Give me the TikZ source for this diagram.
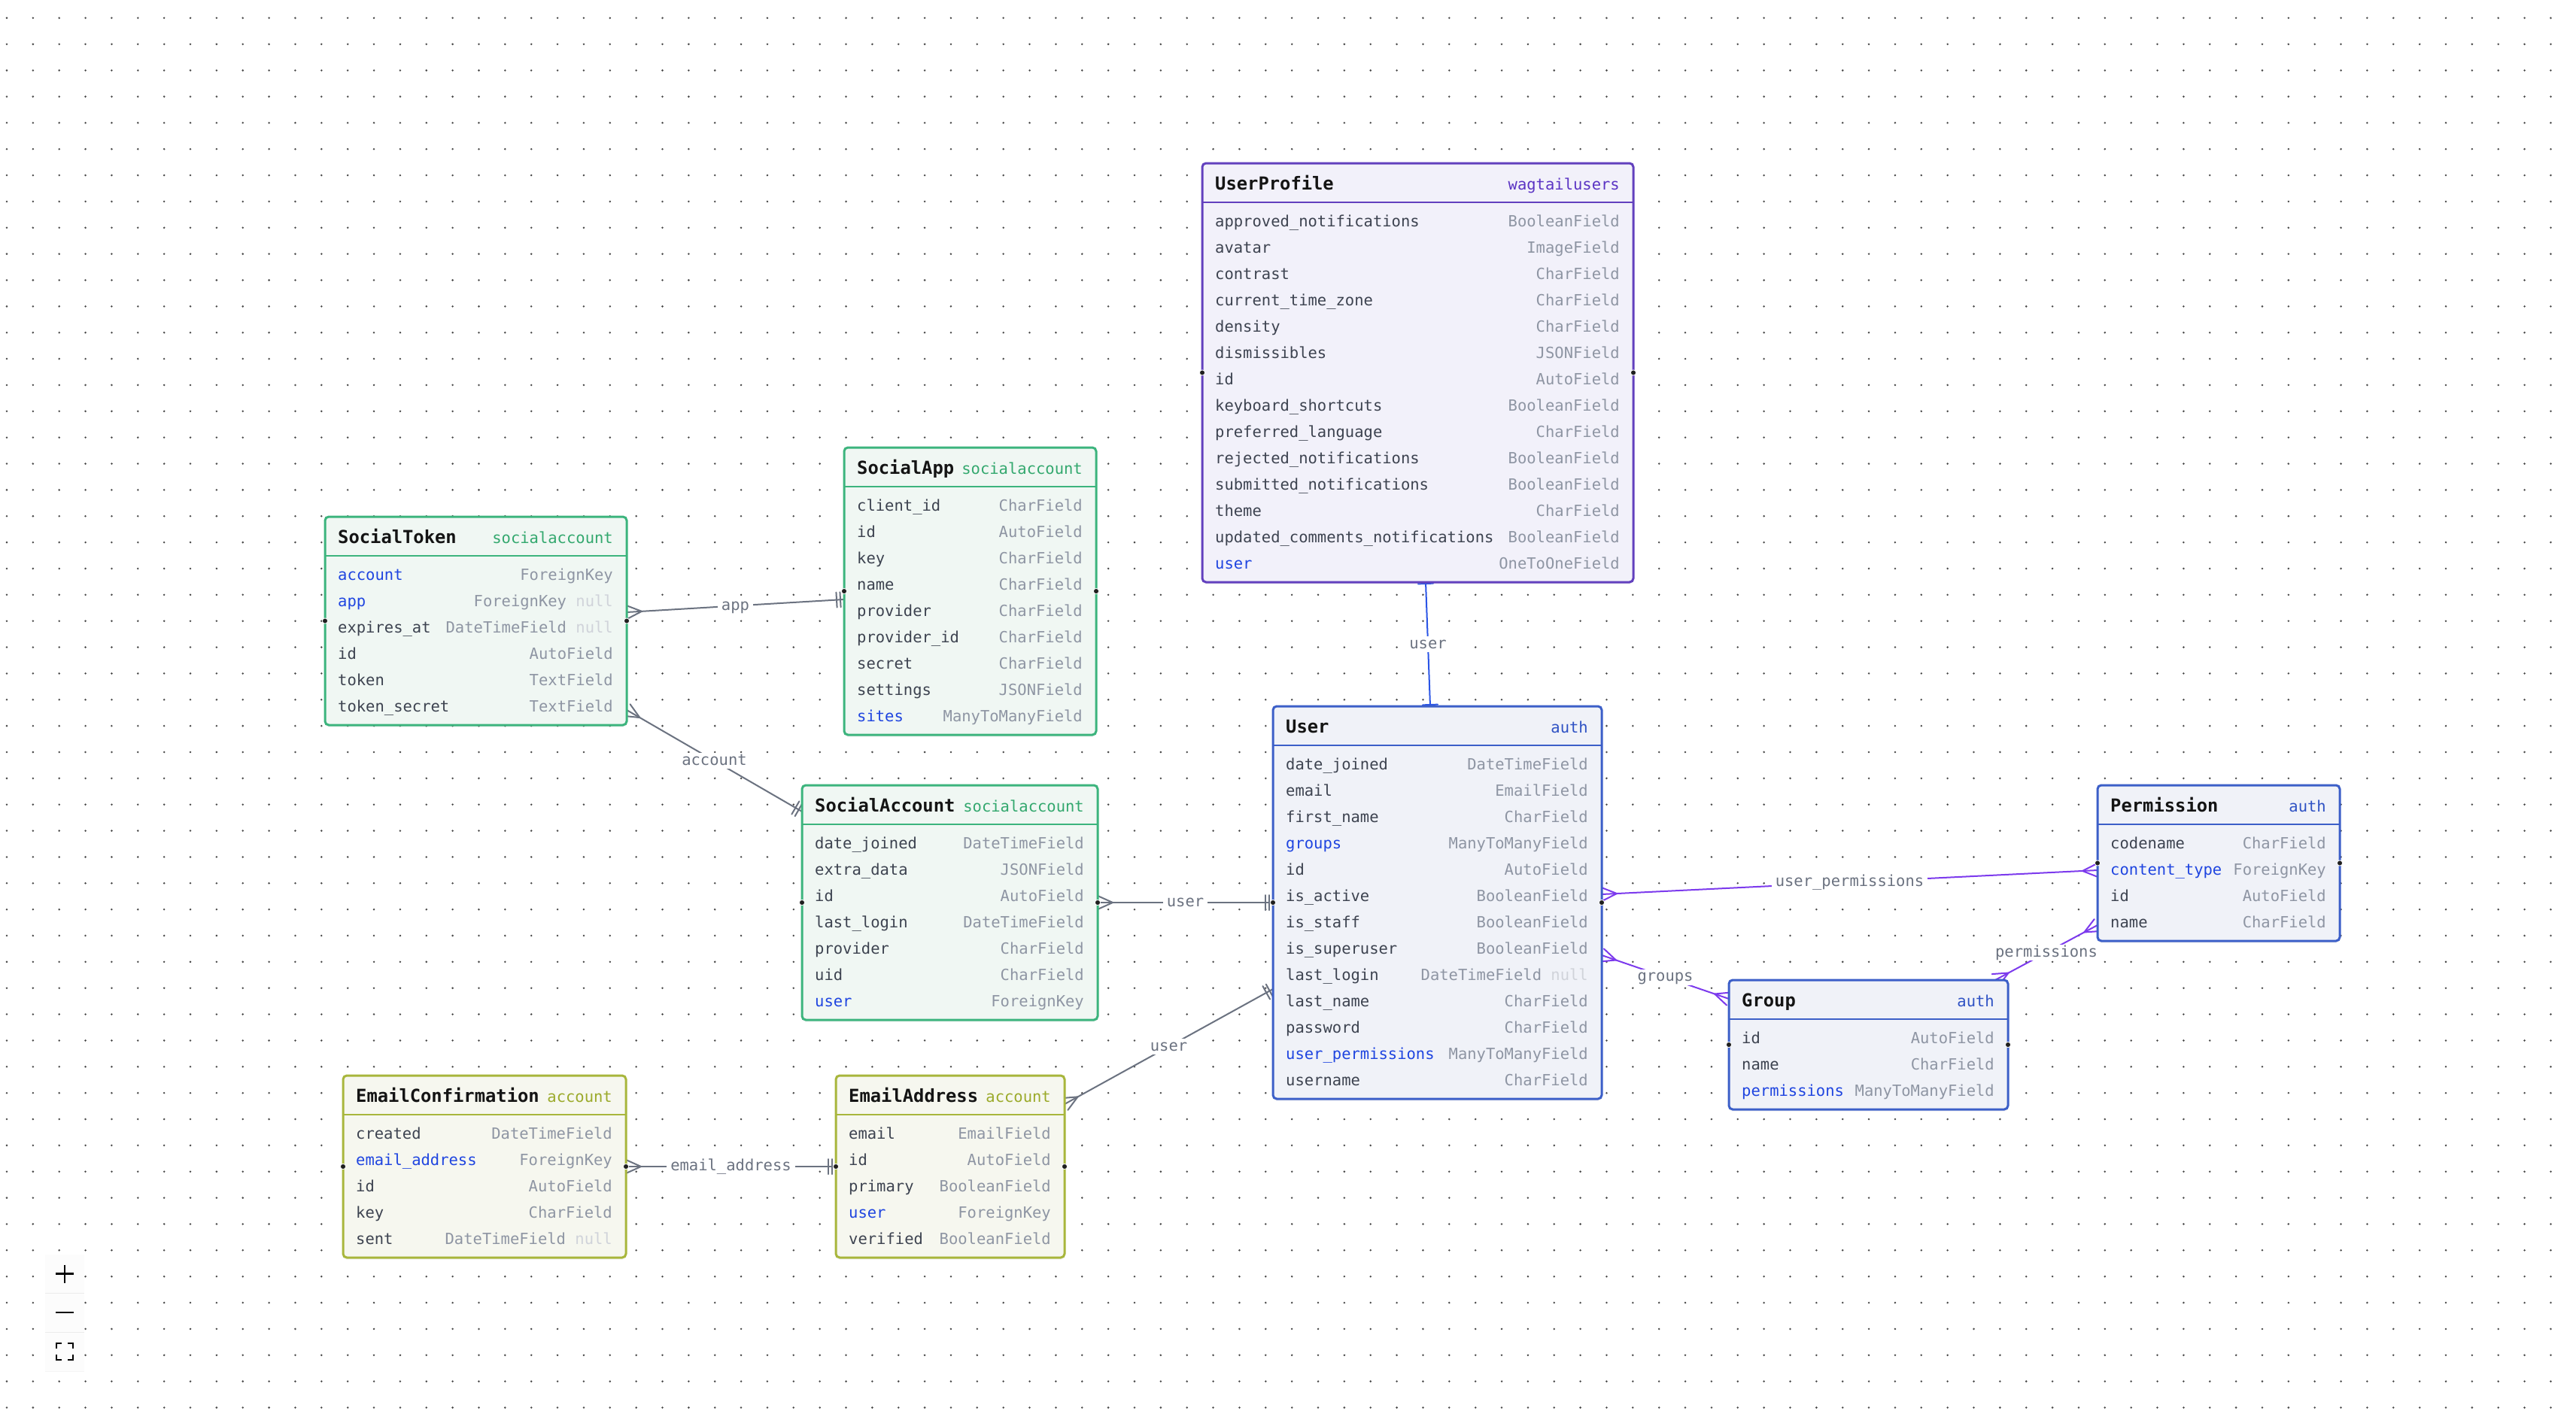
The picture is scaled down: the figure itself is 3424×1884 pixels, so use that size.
\documentclass[tikz,border=0pt]{standalone}
\usepackage{fontspec}
\setmainfont{DejaVu Sans}
\newfontfamily\ermono{DejaVu Sans Mono}
\usetikzlibrary{calc,shadows}
\pgfdeclarelayer{gridlayer}
\pgfdeclarelayer{edgelayer}
\pgfsetlayers{gridlayer,edgelayer,main}

\definecolor{dotcol}{HTML}{4A4A4A}
\definecolor{namecol}{HTML}{3D4350}
\definecolor{fkcol}{HTML}{1F45E0}
\definecolor{typecol}{HTML}{8E95A3}
\definecolor{nullcol}{HTML}{D0D3DA}
\definecolor{edgegray}{HTML}{6B7280}
\definecolor{edgepurple}{HTML}{7C3AED}
\definecolor{edgeblue}{HTML}{2B55E6}
\definecolor{wagbd}{HTML}{6240BE}\definecolor{wagbg}{HTML}{F2F1FA}\definecolor{wagap}{HTML}{5B34C4}
\definecolor{socbd}{HTML}{3CB47D}\definecolor{socbg}{HTML}{F0F7F3}\definecolor{socap}{HTML}{33A86E}
\definecolor{authbd}{HTML}{3C5FC8}\definecolor{authbg}{HTML}{F0F2F8}\definecolor{authap}{HTML}{2F52C4}
\definecolor{accbd}{HTML}{A8B63C}\definecolor{accbg}{HTML}{F6F7EF}\definecolor{accap}{HTML}{9BAA2A}

\tikzset{
  tablebox/.style={rectangle, rounded corners=5pt, line width=3pt, inner sep=0pt, outer sep=0pt,
    anchor=north west, drop shadow={opacity=0.07, shadow xshift=0pt, shadow yshift=-3pt}},
  fieldtext/.style={inner sep=0pt, font=\ermono\fontsize{20.5}{24}\selectfont},
  titletext/.style={inner sep=0pt, text=black!92, font=\ermono\bfseries\fontsize{23.8}{28}\selectfont},
  handle/.style={fill=black!88, draw=white, line width=0.8pt},
  rel/.style={line width=2pt, line cap=round, line join=round},
  grayrel/.style={rel, draw=edgegray},
  purplerel/.style={rel, draw=edgepurple},
  bluerel/.style={rel, draw=edgeblue},
  rellabel/.style={fill=white, text=edgegray, inner xsep=5pt, inner ysep=5pt, text height=11pt,
    text depth=0pt, font=\ermono\fontsize{20.5}{24}\selectfont},
}

% name, left, top, right, rows, colour prefix, title, app, field list
\newcommand\ertable[9]{%
  \pgfmathsetmacro\tabh{67+35*#5}%
  \pgfmathsetmacro\tabw{#4-#2}%
  \node[tablebox, draw=#6bd, fill=#6bg, minimum width=\tabw pt, minimum height=\tabh pt] (#1) at (#2,#3) {};
  \draw[#6bd, line width=2pt] (#2,#3+52) -- (#4,#3+52);
  \node[titletext, anchor=base west] (#1-title) at (#2+17,#3+35) {#7};
  \node[fieldtext, text=#6ap, anchor=base east] (#1-app) at (#4-18,#3+35) {#8};
  \foreach \fname/\ftype/\ffk/\fnull [count=\i from 0] in {#9} {%
    \ifnum\ffk=1 \def\fcol{fkcol}\else\def\fcol{namecol}\fi
    \node[fieldtext, text=\fcol, anchor=base west] (#1-n\i) at (#2+17,#3+84+35*\i) {\fname};
    \ifnum\fnull=1
      \node[fieldtext, anchor=base east] (#1-t\i) at (#4-18,#3+84+35*\i) {\color{typecol}\ftype\ \color{nullcol}null};
    \else
      \node[fieldtext, text=typecol, anchor=base east] (#1-t\i) at (#4-18,#3+84+35*\i) {\ftype};
    \fi
  }
  \path[handle] (#1.west) circle (3.6pt);
  \path[handle] (#1.east) circle (3.6pt);
}

% crow's foot: style, end point, other end
\newcommand\ercrow[3]{%
  \draw[#1] ($(#2)!9pt!90:(#3)$) -- ($(#2)!20pt!(#3)$) -- ($(#2)!9pt!-90:(#3)$);}
% bar: style, end point, other end, distance
\newcommand\erbar[4]{%
  \coordinate (tmpbar) at ($(#2)!#4!(#3)$);
  \draw[#1] ($(tmpbar)!10pt!90:(#3)$) -- ($(tmpbar)!10pt!-90:(#3)$);}

\begin{document}
\begin{tikzpicture}[x=1pt,y=-1pt]
\useasboundingbox (0,0) rectangle (3424,1884);

\begin{pgfonlayer}{gridlayer}
  \fill[white] (0,0) rectangle (3424,1884);
  \foreach \j in {0,...,53} {
    \fill[dotcol] \foreach \i in {0,...,97} { (9+34.86*\i, 23.9+34.86*\j) circle (1.4pt) };
  }
\end{pgfonlayer}

\ertable{UserProfile}{1598}{217}{2171}{14}{wag}{UserProfile}{wagtailusers}{%
  approved\_notifications/BooleanField/0/0, avatar/ImageField/0/0, contrast/CharField/0/0,
  current\_time\_zone/CharField/0/0, density/CharField/0/0, dismissibles/JSONField/0/0,
  id/AutoField/0/0, keyboard\_shortcuts/BooleanField/0/0, preferred\_language/CharField/0/0,
  rejected\_notifications/BooleanField/0/0, submitted\_notifications/BooleanField/0/0,
  theme/CharField/0/0, updated\_comments\_notifications/BooleanField/0/0, user/OneToOneField/1/0}

\ertable{SocialApp}{1122}{595}{1457}{9}{soc}{SocialApp}{socialaccount}{%
  client\_id/CharField/0/0, id/AutoField/0/0, key/CharField/0/0, name/CharField/0/0,
  provider/CharField/0/0, provider\_id/CharField/0/0, secret/CharField/0/0,
  settings/JSONField/0/0, sites/ManyToManyField/1/0}

\ertable{SocialToken}{432}{687}{833}{6}{soc}{SocialToken}{socialaccount}{%
  account/ForeignKey/1/0, app/ForeignKey/1/1, expires\_at/DateTimeField/0/1,
  id/AutoField/0/0, token/TextField/0/0, token\_secret/TextField/0/0}

\ertable{SocialAccount}{1066}{1044}{1459}{7}{soc}{SocialAccount}{socialaccount}{%
  date\_joined/DateTimeField/0/0, extra\_data/JSONField/0/0, id/AutoField/0/0,
  last\_login/DateTimeField/0/0, provider/CharField/0/0, uid/CharField/0/0, user/ForeignKey/1/0}

\ertable{User}{1692}{939}{2129}{13}{auth}{User}{auth}{%
  date\_joined/DateTimeField/0/0, email/EmailField/0/0, first\_name/CharField/0/0,
  groups/ManyToManyField/1/0, id/AutoField/0/0, is\_active/BooleanField/0/0,
  is\_staff/BooleanField/0/0, is\_superuser/BooleanField/0/0, last\_login/DateTimeField/0/1,
  last\_name/CharField/0/0, password/CharField/0/0, user\_permissions/ManyToManyField/1/0,
  username/CharField/0/0}

\ertable{Permission}{2788}{1044}{3110}{4}{auth}{Permission}{auth}{%
  codename/CharField/0/0, content\_type/ForeignKey/1/0, id/AutoField/0/0, name/CharField/0/0}

\ertable{Group}{2298}{1303}{2669}{3}{auth}{Group}{auth}{%
  id/AutoField/0/0, name/CharField/0/0, permissions/ManyToManyField/1/0}

\ertable{EmailConfirmation}{456}{1430}{832}{5}{acc}{EmailConfirmation}{account}{%
  created/DateTimeField/0/0, email\_address/ForeignKey/1/0, id/AutoField/0/0,
  key/CharField/0/0, sent/DateTimeField/0/1}

\ertable{EmailAddress}{1111}{1430}{1415}{5}{acc}{EmailAddress}{account}{%
  email/EmailField/0/0, id/AutoField/0/0, primary/BooleanField/0/0,
  user/ForeignKey/1/0, verified/BooleanField/0/0}

% connector end points on the table borders
\coordinate (e1s) at (SocialToken.east |- 0,814);
\coordinate (e1t) at (SocialApp.west |- 0,797);
\coordinate (e2s) at (SocialToken.east |- 0,944);
\coordinate (e2t) at (SocialAccount.west |- 0,1079);
\coordinate (e3s) at (SocialAccount.east);
\coordinate (e3t) at (User.west |- SocialAccount.east);
\coordinate (e4s) at (EmailAddress.east |- 0,1468);
\coordinate (e4t) at (User.west |- 0,1315);
\coordinate (e5s) at (EmailConfirmation.east);
\coordinate (e5t) at (EmailAddress.west);
\coordinate (e6s) at (UserProfile.south -| 1895,0);
\coordinate (e6t) at (User.north -| 1901,0);
\coordinate (e7s) at (User.east |- 0,1189);
\coordinate (e7t) at (Permission.west |- 0,1157);
\coordinate (e8s) at (User.east |- 0,1270);
\coordinate (e8t) at (Group.west |- 0,1328);
\coordinate (e9s) at (Group.north -| 2652,0);
\coordinate (e9t) at (Permission.west |- 0,1230);

\begin{pgfonlayer}{edgelayer}
  % SocialToken.app -> SocialApp
  \draw[grayrel] (e1s) -- (e1t);
  \ercrow{grayrel}{e1s}{e1t}
  \erbar{grayrel}{e1t}{e1s}{5pt}\erbar{grayrel}{e1t}{e1s}{10pt}
  \node[rellabel] (l1) at ($(e1s)!0.5!(e1t)$) {app};
  % SocialToken.account -> SocialAccount
  \draw[grayrel] (e2s) -- (e2t);
  \ercrow{grayrel}{e2s}{e2t}
  \erbar{grayrel}{e2t}{e2s}{5pt}\erbar{grayrel}{e2t}{e2s}{10pt}
  \node[rellabel] (l2) at ($(e2s)!0.5!(e2t)$) {account};
  % SocialAccount.user -> User
  \draw[grayrel] (e3s) -- (e3t);
  \ercrow{grayrel}{e3s}{e3t}
  \erbar{grayrel}{e3t}{e3s}{5pt}\erbar{grayrel}{e3t}{e3s}{10pt}
  \node[rellabel] (l3) at ($(e3s)!0.5!(e3t)$) {user};
  % EmailAddress.user -> User
  \draw[grayrel] (e4s) -- (e4t);
  \ercrow{grayrel}{e4s}{e4t}
  \erbar{grayrel}{e4t}{e4s}{5pt}\erbar{grayrel}{e4t}{e4s}{10pt}
  \node[rellabel] (l4) at ($(e4s)!0.5!(e4t)$) {user};
  % EmailConfirmation.email_address -> EmailAddress
  \draw[grayrel] (e5s) -- (e5t);
  \ercrow{grayrel}{e5s}{e5t}
  \erbar{grayrel}{e5t}{e5s}{5pt}\erbar{grayrel}{e5t}{e5s}{10pt}
  \node[rellabel] (l5) at ($(e5s)!0.5!(e5t)$) {email\_address};
  % UserProfile.user -> User (one to one)
  \draw[bluerel] (e6s) -- (e6t);
  \erbar{bluerel}{e6s}{e6t}{2pt}
  \erbar{bluerel}{e6t}{e6s}{2pt}
  \node[rellabel] (l6) at ($(e6s)!0.5!(e6t)$) {user};
  % User.user_permissions -> Permission
  \draw[purplerel] (e7s) -- (e7t);
  \ercrow{purplerel}{e7s}{e7t}
  \ercrow{purplerel}{e7t}{e7s}
  \node[rellabel] (l7) at ($(e7s)!0.5!(e7t)$) {user\_permissions};
  % User.groups -> Group
  \draw[purplerel] (e8s) -- (e8t);
  \ercrow{purplerel}{e8s}{e8t}
  \ercrow{purplerel}{e8t}{e8s}
  \node[rellabel] (l8) at ($(e8s)!0.5!(e8t)$) {groups};
  % Group.permissions -> Permission
  \draw[purplerel] (e9s) -- (e9t);
  \ercrow{purplerel}{e9s}{e9t}
  \ercrow{purplerel}{e9t}{e9s}
  \node[rellabel] (l9) at ($(e9s)!0.5!(e9t)$) {permissions};
\end{pgfonlayer}

% zoom controls
\node[fill=black!1, inner sep=0pt, outer sep=0pt, anchor=north west, minimum width=52pt, minimum height=155pt,
  drop shadow={opacity=0.08, shadow xshift=0pt, shadow yshift=-1pt}] (ctrl) at (60,1668) {};
\draw[black!8, line width=1pt] (ctrl.west |- 0,1719) -- (ctrl.east |- 0,1719);
\draw[black!8, line width=1pt] (ctrl.west |- 0,1771) -- (ctrl.east |- 0,1771);
\draw[black, line width=2.6pt] (74,1693.7) -- (98,1693.7) (86,1681.7) -- (86,1705.7);
\draw[black, line width=2.6pt] (74,1745) -- (98,1745);
\draw[black, line width=2.4pt] (75,1793) -- (75,1786) -- (82,1786) (90,1786) -- (97,1786) -- (97,1793)
  (97,1801) -- (97,1808) -- (90,1808) (82,1808) -- (75,1808) -- (75,1801);
\end{tikzpicture}
\end{document}
